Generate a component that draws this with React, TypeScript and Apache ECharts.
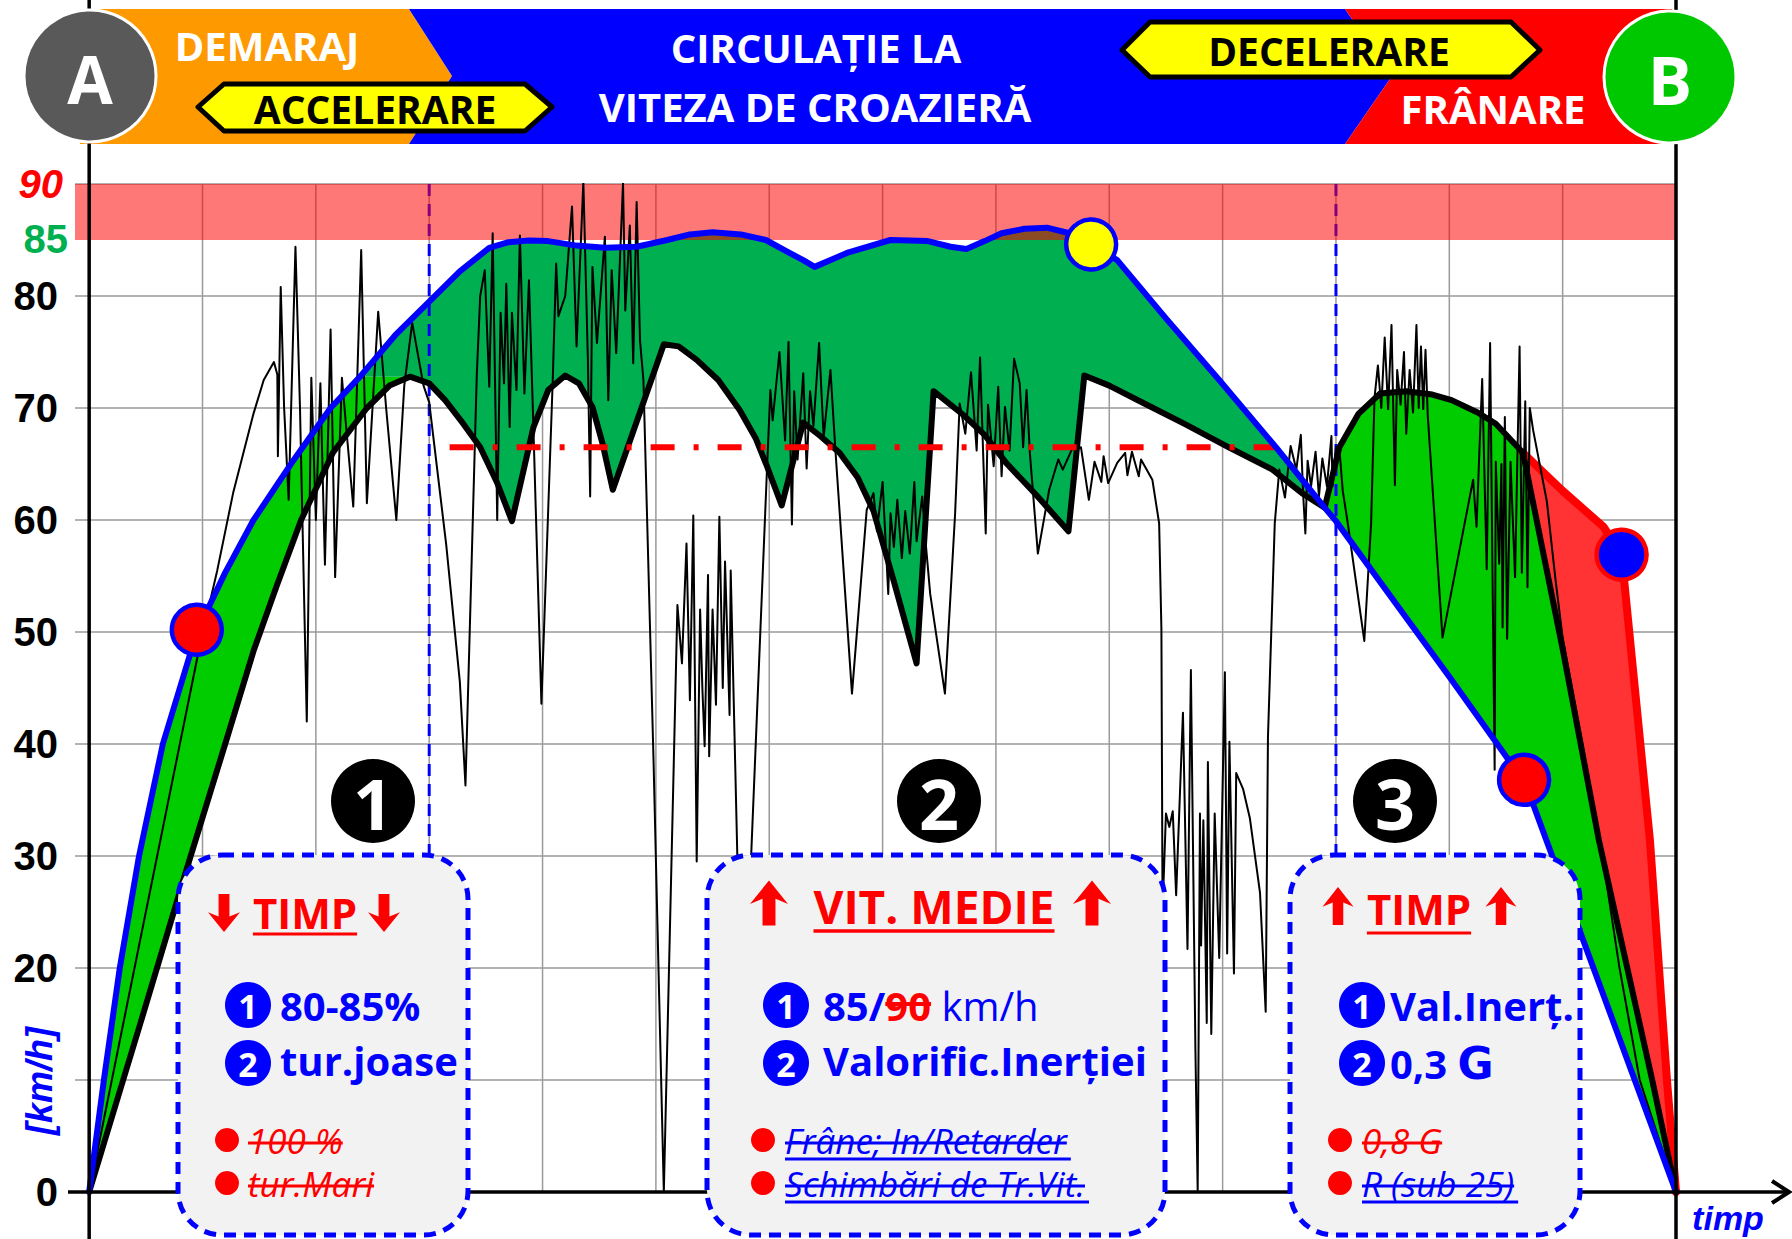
import React, { useEffect, useRef } from "react";
import * as echarts from "echarts";

type P = [number, number];

// ---------- DATA ----------
const xGridTicks = [1, 2, 3, 4, 5, 6, 7, 8, 9, 10, 11, 12, 13];
const hiddenYLabels = [10, 90];
const phaseBoundaries = [3, 11];
const phaseBoundaryLow = 30;
const cruiseBand: P = [85, 90];
const avgSpeed = 66.5;
const avgSpeedSpan: P = [3.18, 10.46];
const accelSplit = 2.39; // where the ideal curve reaches the lower curve's first peak level
const lowerPeak1 = 2.83;
const crossing = 10.9;
const brakeFrom = 12.65;

// ideal (blue) envelope
const idealCurve: P[] = [
  [0, 0], [0.13, 10], [0.27, 20], [0.44, 30], [0.65, 40], [0.95, 50], [1.2, 55.3], [1.45, 60],
  [1.8, 65.3], [2.13, 70], [2.39, 72.8], [2.7, 76.5], [3.0, 79.5], [3.27, 82.2], [3.53, 84.3],
  [3.7, 84.8], [3.88, 84.95], [4.05, 84.9], [4.3, 84.5], [4.55, 84.3], [4.83, 84.4], [5.1, 85.0],
  [5.3, 85.5], [5.5, 85.7], [5.75, 85.5], [5.97, 85.0], [6.15, 84.0], [6.3, 83.2], [6.4, 82.6],
  [6.7, 83.9], [7.07, 85.0], [7.4, 84.9], [7.6, 84.4], [7.74, 84.2], [7.9, 84.9], [8.05, 85.6],
  [8.25, 86.0], [8.45, 86.1], [8.65, 85.6], [8.84, 84.6], [9.07, 83.2], [9.5, 78], [9.97, 72.5],
  [10.47, 66.5], [10.9, 61.1], [11.0, 59.9], [11.56, 52.1], [12.0, 46.0], [12.5, 38.9],
  [12.66, 36.8], [14, 0],
];

// real lower (thick black) curve
const realLower: P[] = [
  [0, 0], [0.45, 15], [0.85, 28.5], [1.2, 40], [1.45, 48.3], [1.65, 54], [1.87, 60], [2.15, 66],
  [2.45, 70], [2.65, 72], [2.83, 72.8], [3.0, 72.2], [3.14, 70.7], [3.3, 68.6], [3.45, 66.5],
  [3.6, 63.3], [3.73, 59.9], [3.92, 68.3], [4.05, 71.6], [4.2, 72.9], [4.32, 72.2], [4.44, 70.1],
  [4.53, 66.8], [4.62, 62.7], [5.07, 75.7], [5.2, 75.5], [5.36, 74.3], [5.55, 72.5], [5.74, 69.8],
  [5.88, 67.3], [5.98, 64.8], [6.11, 61.3], [6.3, 68.7], [6.45, 67.5], [6.62, 66.0], [6.78, 63.8],
  [6.92, 60.8], [7.1, 54.5], [7.3, 47.2], [7.45, 71.5], [7.71, 69.4], [7.9, 67.6], [8.09, 65.1],
  [8.35, 62.3], [8.64, 59], [8.78, 72.9], [9.0, 72.0], [9.27, 70.6], [9.66, 68.6], [10.05, 66.5],
  [10.44, 64.5], [10.7, 62.4], [10.9, 61.1], [11.03, 66.5], [11.2, 69.5], [11.39, 71.3],
  [11.62, 71.5], [11.85, 71.2], [12.02, 70.7], [12.25, 69.6], [12.41, 68.6], [12.65, 66],
  [13.0, 48.5], [13.32, 31.4], [13.57, 20], [13.79, 10], [14, 0],
];

// braking edge (red)
const brakeEdge: P[] = [
  [12.65, 66], [13.0, 62.6], [13.36, 59.4], [13.52, 56.9], [13.77, 31.4], [13.85, 20], [13.92, 10], [14, 0],
];

// measured speed trace (thin black)
const speedTrace: P[] = [
  [0, 0], [0.98, 49], [1.13, 55.5], [1.27, 62.4], [1.45, 69.5], [1.54, 72.5], [1.63, 74.1], [1.66, 73],
  [1.665, 65.7], [1.69, 80.8], [1.72, 70], [1.76, 61.8], [1.82, 84.4], [1.86, 70], [1.92, 42],
  [1.96, 72.7], [2.0, 60], [2.04, 72.2], [2.08, 56], [2.13, 77], [2.17, 54.9], [2.23, 72.7],
  [2.27, 68], [2.33, 61.2], [2.4, 84.1], [2.45, 61.5], [2.55, 78.6], [2.62, 70], [2.71, 60],
  [2.78, 72], [2.85, 77.6], [2.95, 72], [3.0, 70.5], [3.15, 57.8], [3.27, 45.6], [3.32, 36.3],
  [3.42, 73], [3.45, 80], [3.49, 82.3], [3.53, 71.9], [3.56, 85.6], [3.6, 60], [3.63, 78.5],
  [3.66, 72.2], [3.68, 81.1], [3.71, 68.3], [3.73, 78.5], [3.77, 71.6], [3.8, 85.4], [3.84, 71.3],
  [3.88, 81.4], [3.92, 68], [3.99, 43.6], [4.09, 72.5], [4.12, 82.9], [4.14, 78.2], [4.2, 80],
  [4.26, 88.0], [4.3, 75.5], [4.36, 90.2], [4.4, 74.3], [4.42, 62.1], [4.44, 82.6], [4.48, 75.8],
  [4.55, 85.3], [4.58, 70.7], [4.61, 82.3], [4.65, 74.9], [4.71, 90.1], [4.73, 78.7], [4.77, 86.3],
  [4.8, 74], [4.83, 88.4], [4.86, 76], [4.89, 72.5], [4.98, 38.2], [5.07, 0], [5.19, 52.4],
  [5.23, 47.2], [5.27, 57.9], [5.3, 43.9], [5.33, 60.4], [5.36, 29.5], [5.39, 52], [5.41, 45],
  [5.43, 39.8], [5.46, 55.1], [5.47, 38.9], [5.5, 52], [5.53, 43.5], [5.56, 60.3], [5.59, 45],
  [5.61, 56.3], [5.65, 42.6], [5.66, 55.5], [5.72, 29.3], [5.76, 27.5], [5.84, 29.9], [5.98, 64.5],
  [6.01, 71.6], [6.03, 68.9], [6.09, 75], [6.14, 67.1], [6.17, 75.9], [6.2, 59.6], [6.22, 71.5],
  [6.25, 65.4], [6.3, 73.1], [6.33, 64.6], [6.36, 71.5], [6.39, 68.4], [6.44, 75.8], [6.48, 67.4],
  [6.54, 73.4], [6.58, 66.8], [6.73, 44.5], [6.86, 60.9], [6.92, 62.4], [6.95, 59], [7.0, 63.4],
  [7.05, 53.4], [7.07, 60.6], [7.1, 57.6], [7.13, 61.8], [7.17, 56.6], [7.2, 60.8], [7.24, 57],
  [7.28, 63.4], [7.3, 58.1], [7.35, 62.1], [7.38, 58], [7.42, 53.4], [7.55, 44.5], [7.64, 60.6],
  [7.68, 70.4], [7.73, 67.7], [7.78, 73.2], [7.83, 66.2], [7.86, 74.5], [7.91, 58.8], [7.93, 70.3],
  [7.98, 64.8], [8.02, 71.9], [8.05, 63.9], [8.08, 70.1], [8.12, 66.2], [8.16, 74.4], [8.21, 72.2],
  [8.24, 66.5], [8.27, 71.6], [8.3, 65.9], [8.37, 57], [8.47, 62.7], [8.55, 65.4], [8.59, 64.5],
  [8.67, 66.3], [8.75, 66.5], [8.82, 61.8], [8.87, 65.2], [8.93, 63.4], [8.95, 65.7], [8.99, 63.3],
  [9.07, 65.1], [9.14, 66], [9.16, 64], [9.2, 66.1], [9.26, 63.9], [9.28, 65.4], [9.38, 63.6],
  [9.44, 59.7], [9.46, 50.2], [9.47, 25.1], [9.5, 33.8], [9.53, 32.6], [9.56, 34], [9.59, 26.5],
  [9.65, 42.8], [9.69, 21.7], [9.72, 46.6], [9.76, 12.7], [9.78, 0], [9.8, 33.8], [9.81, 22],
  [9.83, 33.2], [9.86, 15.1], [9.87, 38.4], [9.9, 14.1], [9.93, 33.8], [9.97, 20.9], [10.02, 46.4],
  [10.04, 21.3], [10.06, 40.2], [10.1, 19.5], [10.12, 37.4], [10.18, 36], [10.24, 33.4],
  [10.33, 26.7], [10.38, 16.1], [10.4, 40.6], [10.43, 50.2], [10.46, 59.7], [10.5, 64.5],
  [10.55, 62], [10.6, 66.6], [10.65, 64.5], [10.69, 67.6], [10.71, 62.4], [10.73, 58.8],
  [10.75, 65.3], [10.78, 63], [10.82, 66.1], [10.85, 62.1], [10.88, 65.5], [10.92, 63],
  [10.96, 67.5], [10.97, 63], [11.0, 66.5], [11.03, 66.4], [11.06, 62.6], [11.1, 60], [11.25, 49.2],
  [11.31, 59.7], [11.34, 70.9], [11.37, 73.8], [11.4, 70], [11.43, 76.3], [11.46, 69.9],
  [11.49, 77.4], [11.52, 63.1], [11.54, 73.4], [11.57, 70.3], [11.6, 75.0], [11.62, 67.7],
  [11.65, 73.4], [11.68, 69.6], [11.71, 77.4], [11.73, 70], [11.75, 75.5], [11.77, 69.9],
  [11.79, 75.2], [11.81, 69.3], [11.94, 49.5], [12.21, 63.6], [12.24, 59.4], [12.29, 72.6],
  [12.33, 55.6], [12.36, 75.8], [12.38, 56.2], [12.4, 37.7], [12.41, 65.2], [12.44, 56.1],
  [12.46, 65], [12.47, 50.4], [12.49, 69.2], [12.51, 49.4], [12.54, 65.2], [12.58, 54.9],
  [12.62, 75.5], [12.64, 55.3], [12.67, 70.6], [12.69, 54], [12.71, 70], [12.74, 68], [12.86, 61.7],
  [12.94, 54.4], [13.0, 49.5], [13.33, 31.4], [13.5, 20.1], [13.68, 10], [14, 0],
];

const markerStart: P = [0.95, 50.2];
const markerCruiseEnd: P = [8.84, 84.6];
const markerBrake: P = [12.66, 36.8];
const markerBrakeAlt: P = [13.52, 56.9];

// ---------- STYLE CONSTANTS ----------
const OPEN = '"Open Sans", "DejaVu Sans", sans-serif';
const ARIAL = '"Liberation Sans", Arial, sans-serif';
const BLUE = "#0000ff";
const RED = "#ff0000";
const GRID_GRAY = "#9a9a9a";

const between = (arr: P[], a: number, b: number) =>
  arr.filter(([x]) => x >= a - 1e-9 && x <= b + 1e-9);

const leftBright: P[] = [...between(idealCurve, 0, accelSplit), ...between(realLower, 0, lowerPeak1).reverse()];
const middleDark: P[] = [...between(idealCurve, accelSplit, crossing), ...between(realLower, lowerPeak1, crossing).reverse()];
const rightBright: P[] = [...between(realLower, crossing, 14), ...between(idealCurve, crossing, 14).reverse()];
const redFill: P[] = [...between(realLower, brakeFrom, 14), ...brakeEdge.slice().reverse()];
const brownPoly: P[] = [
  ...between(idealCurve, 3.5, markerCruiseEnd[0]).map(([x, y]) => [x, Math.max(y, cruiseBand[0])] as P),
  [markerCruiseEnd[0], cruiseBand[0]],
  [3.5, cruiseBand[0]],
];
const bandPoly: P[] = [[-0.125, cruiseBand[0]], [14, cruiseBand[0]], [14, cruiseBand[1]], [-0.125, cruiseBand[1]]];

const polySeries = (id: string, pts: P[], fill: string, z: number) => ({
  type: "custom",
  id,
  z,
  silent: true,
  data: [pts[0]],
  renderItem: (_p: any, api: any) => ({
    type: "polygon",
    shape: { points: pts.map((q) => api.coord(q)) },
    style: { fill },
  }),
});

const lineSeries = (id: string, data: P[], color: string, width: number, z: number, extra: any = {}) => ({
  type: "line",
  id,
  z,
  silent: true,
  data,
  symbol: "none",
  smooth: false,
  lineStyle: { color, width, join: "round", cap: "round", opacity: 1, ...extra },
});

function buildOption(): any {
  return {
    animation: false,
    backgroundColor: "#ffffff",
    grid: { left: 75, top: 184, width: 1601, height: 1008 },
    xAxis: {
      type: "value", min: -0.125, max: 14,
      axisLine: { show: false }, axisTick: { show: false }, axisLabel: { show: false }, splitLine: { show: false },
    },
    yAxis: {
      type: "value", min: 0, max: 90, interval: 10,
      axisLine: { show: false }, axisTick: { show: false },
      axisLabel: {
        margin: 17, fontSize: 40, fontWeight: "bold", color: "#000", fontFamily: ARIAL,
        formatter: (v: number) => (hiddenYLabels.includes(v) ? "" : String(v)),
      },
      splitLine: { lineStyle: { color: GRID_GRAY, width: 1.5 } },
    },
    series: [
      {
        type: "custom", id: "vgrid", z: 1, silent: true,
        data: xGridTicks.map((x) => [x, 0]),
        renderItem: (_p: any, api: any) => {
          const a = api.coord([api.value(0), 0]);
          const b = api.coord([api.value(0), 90]);
          return { type: "line", shape: { x1: a[0], y1: a[1], x2: b[0], y2: b[1] }, style: { stroke: GRID_GRAY, lineWidth: 1.5 } };
        },
      },
      polySeries("leftBright", leftBright, "#00cc00", 2),
      polySeries("middleDark", middleDark, "#00b050", 2),
      polySeries("rightBright", rightBright, "#00cc00", 2),
      polySeries("redFill", redFill, "#ff3333", 2),
      {
        type: "custom", id: "phases", z: 3, silent: true,
        data: phaseBoundaries.map((x) => [x, cruiseBand[1]]),
        renderItem: (_p: any, api: any) => {
          const a = api.coord([api.value(0), cruiseBand[1]]);
          const b = api.coord([api.value(0), phaseBoundaryLow]);
          return {
            type: "line", shape: { x1: a[0], y1: a[1], x2: b[0], y2: b[1] },
            style: { stroke: BLUE, lineWidth: 3, lineDash: [12, 8] },
          };
        },
      },
      polySeries("band", bandPoly, "rgba(255,0,0,0.53)", 4),
      polySeries("brown", brownPoly, "#8a4b25", 5),
      lineSeries("brakeEdge", brakeEdge, RED, 8, 6),
      lineSeries("realLower", realLower, "#000", 6, 7),
      lineSeries("trace", speedTrace, "#000", 2, 8),
      lineSeries("avg", [[avgSpeedSpan[0], avgSpeed], [avgSpeedSpan[1], avgSpeed]], RED, 6, 9, { type: [24, 19, 5, 19], cap: "butt" }),
      lineSeries("ideal", idealCurve, BLUE, 6, 10),
      {
        type: "scatter", id: "markers", z: 11, silent: true, symbol: "circle", symbolSize: 50,
        itemStyle: { opacity: 1 },
        data: [
          { value: markerStart, itemStyle: { color: RED, borderColor: BLUE, borderWidth: 4.5, opacity: 1 } },
          { value: markerCruiseEnd, itemStyle: { color: "#ffff00", borderColor: BLUE, borderWidth: 4.5, opacity: 1 } },
          { value: markerBrake, itemStyle: { color: RED, borderColor: BLUE, borderWidth: 4.5, opacity: 1 } },
          { value: markerBrakeAlt, itemStyle: { color: BLUE, borderColor: RED, borderWidth: 4.5, opacity: 1 } },
        ],
      },
    ],
  };
}

// ---------- GRAPHICS ----------
let measureCtx: CanvasRenderingContext2D | null = null;
const measure = (t: string, size: number, weight = "bold", style = "normal", family = OPEN) => {
  if (!measureCtx) measureCtx = document.createElement("canvas").getContext("2d");
  measureCtx!.font = `${style} ${weight} ${size}px ${family}`;
  return measureCtx!.measureText(t).width;
};

const txt = (text: string, x: number, y: number, o: any = {}) => ({
  type: "text", z: o.z ?? 120, x, y, rotation: o.rotation ?? 0, silent: true,
  style: {
    text, fill: o.fill ?? "#000", fontSize: o.size ?? 40, fontWeight: o.weight ?? "bold",
    fontStyle: o.style ?? "normal", fontFamily: o.family ?? OPEN,
    lineHeight: o.lineHeight ?? Math.round((o.size ?? 40) * 1.05),
    align: o.align ?? "center", verticalAlign: "middle", rich: o.rich,
  },
});
const hline = (x1: number, x2: number, y: number, color: string, w = 3, z = 121) => ({
  type: "line", z, silent: true, shape: { x1, y1: y, x2, y2: y }, style: { stroke: color, lineWidth: w },
});
const circ = (cx: number, cy: number, r: number, fill: string, z = 110, stroke?: string, lw = 0) => ({
  type: "circle", z, silent: true, shape: { cx, cy, r }, style: { fill, stroke, lineWidth: lw },
});
const arrow = (cx: number, cy: number, w: number, h: number, dir: number) => {
  const hh = h * 0.52, s = w * 0.34, top = cy - h / 2, bot = cy + h / 2;
  let pts: number[][] = [
    [cx, top], [cx + w / 2, top + hh], [cx + s / 2, top + hh * 0.78], [cx + s / 2, bot],
    [cx - s / 2, bot], [cx - s / 2, top + hh * 0.78], [cx - w / 2, top + hh],
  ];
  if (dir < 0) pts = pts.map(([x, y]) => [x, 2 * cy - y]);
  return { type: "polygon", z: 115, silent: true, shape: { points: pts }, style: { fill: RED } };
};
const numBadge = (cx: number, cy: number, n: string) => [
  circ(cx, cy, 23, BLUE, 112),
  txt(n, cx, cy + 1, { size: 34, fill: "#fff", z: 113, lineHeight: 34 }),
];
const struck = (t: string, x: number, y: number, color: string, underline: boolean) => {
  const w = measure(t, 35, "normal", "italic");
  const out: any[] = [txt(t, x, y, { size: 35, weight: "normal", style: "italic", fill: color, align: "left", lineHeight: 36 }),
    hline(x, x + w, y + 3, color, 3)];
  if (underline) out.push(hline(x, x + w + 4, y + 19, color, 3));
  return out;
};

function buildGraphics(p: (x: number, y: number) => number[]): any[] {
  const els: any[] = [];
  const [ax0, ay0] = p(0, 0);
  const [bx] = p(14, 0);
  const [, y90] = p(0, 90);
  const [, y85] = p(0, 85);

  // banner
  els.push({ type: "polygon", z: 40, silent: true, shape: { points: [[80, 9], [409, 9], [452, 76], [409, 144], [80, 144]] }, style: { fill: "#ff9900" } });
  els.push({ type: "polygon", z: 40, silent: true, shape: { points: [[409, 9], [1345, 9], [1392, 76], [1345, 144], [409, 144], [452, 76]] }, style: { fill: BLUE } });
  els.push({ type: "polygon", z: 40, silent: true, shape: { points: [[1345, 9], [1672, 9], [1672, 144], [1345, 144], [1392, 76]] }, style: { fill: RED } });

  // axes
  els.push({ type: "line", z: 50, silent: true, shape: { x1: ax0, y1: 0, x2: ax0, y2: 1239 }, style: { stroke: "#000", lineWidth: 3.5 } });
  els.push({ type: "line", z: 50, silent: true, shape: { x1: bx, y1: 0, x2: bx, y2: 1239 }, style: { stroke: "#000", lineWidth: 3.5 } });
  els.push({ type: "line", z: 50, silent: true, shape: { x1: 68, y1: ay0, x2: 1787, y2: ay0 }, style: { stroke: "#000", lineWidth: 3.5 } });
  els.push({ type: "polyline", z: 50, silent: true, shape: { points: [[1772, ay0 - 11], [1789, ay0], [1772, ay0 + 11]] }, style: { stroke: "#000", lineWidth: 4, fill: null } });
  els.push(txt("90", 63, y90, { size: 40, style: "italic", fill: RED, family: ARIAL, align: "right", z: 70 }));
  els.push(txt("85", 68, y85 - 1, { size: 40, fill: "#00b050", family: ARIAL, align: "right", z: 70 }));
  els.push(txt("timp", 1728, 1218, { size: 34, style: "italic", fill: BLUE, family: ARIAL, z: 70 }));
  els.push(txt("[km/h]", 39, 1081, { size: 36, style: "italic", fill: BLUE, family: ARIAL, z: 70, rotation: Math.PI / 2 }));

  // header labels
  els.push(txt("DEMARAJ", 267, 45, { size: 40, fill: "#fff", z: 46 }));
  els.push({ type: "polygon", z: 45, silent: true, shape: { points: [[198, 107], [224, 84], [525, 84], [552, 107], [525, 131], [224, 131]] }, style: { fill: "#ffff00", stroke: "#000", lineWidth: 5, lineJoin: "round" } });
  els.push(txt("ACCELERARE", 375, 108, { size: 39, fill: "#000", z: 46 }));
  els.push(txt("CIRCULAȚIE LA", 816, 47, { size: 40, fill: "#fff", z: 46 }));
  els.push(txt("VITEZA DE CROAZIERĂ", 815, 106, { size: 40, fill: "#fff", z: 46 }));
  els.push({ type: "polygon", z: 45, silent: true, shape: { points: [[1122, 50], [1150, 22], [1511, 22], [1540, 50], [1511, 77], [1150, 77]] }, style: { fill: "#ffff00", stroke: "#000", lineWidth: 5, lineJoin: "round" } });
  els.push(txt("DECELERARE", 1329, 50, { size: 39, fill: "#000", z: 46 }));
  els.push(txt("FRÂNARE", 1493, 108, { size: 40, fill: "#fff", z: 46 }));
  els.push(circ(90, 76, 66, "#595959", 60, "#fff", 3));
  els.push(txt("A", 90, 78, { size: 66, fill: "#fff", z: 61 }));
  els.push(circ(1670, 77, 66, "#00c800", 60, "#fff", 3));
  els.push(txt("B", 1670, 79, { size: 66, fill: "#fff", z: 61 }));

  // phase numbers
  [[373, "1"], [939, "2"], [1395, "3"]].forEach(([cx, n]) => {
    els.push(circ(cx as number, 801, 42, "#000", 90));
    els.push(txt(n as string, cx as number, 803, { size: 70, fill: "#fff", z: 91 }));
  });

  // boxes
  const box = (x: number, w: number) => ({
    type: "rect", z: 100, silent: true, shape: { x, y: 855, width: w, height: 380, r: 44 },
    style: { fill: "#f2f2f2", stroke: BLUE, lineWidth: 5, lineDash: [12, 8] },
  });
  els.push(box(178, 290), box(707, 458), box(1290, 290));

  // box 1
  els.push(arrow(224, 913, 32, 38, -1), arrow(384, 913, 32, 38, -1));
  els.push(txt("TIMP", 305, 912, { size: 42, fill: RED }));
  { const w = measure("TIMP", 42); els.push(hline(305 - w / 2, 305 + w / 2, 934, RED, 3)); }
  els.push(...numBadge(248, 1005, "1"), txt("80-85%", 280, 1005, { size: 40, fill: BLUE, align: "left" }));
  els.push(...numBadge(248, 1063, "2"), txt("tur.joase", 280, 1060, { size: 40, fill: BLUE, align: "left" }));
  els.push(circ(227, 1140, 12, RED, 110), ...struck("100 %", 248, 1140, RED, false));
  els.push(circ(227, 1183, 12, RED, 110), ...struck("tur.Mari", 248, 1183, RED, false));

  // box 2
  els.push(arrow(769, 903, 38, 45, 1), arrow(1092, 903, 38, 45, 1));
  els.push(txt("VIT. MEDIE", 934, 906, { size: 46, fill: RED }));
  { const w = measure("VIT. MEDIE", 46); els.push(hline(934 - w / 2, 934 + w / 2, 931, RED, 3.5)); }
  els.push(...numBadge(786, 1005, "1"));
  els.push(txt("{b|85/}{r|90}{n| km/h}", 823, 1005, {
    align: "left", size: 40, fill: BLUE,
    rich: {
      b: { fill: BLUE, fontSize: 40, fontWeight: "bold", fontFamily: OPEN },
      r: { fill: RED, fontSize: 40, fontWeight: "bold", fontFamily: OPEN },
      n: { fill: BLUE, fontSize: 40, fontWeight: "normal", fontFamily: OPEN },
    },
  }));
  { const a = 823 + measure("85/", 40); const w = measure("90", 40); els.push(hline(a, a + w, 1004, RED, 4)); }
  els.push(...numBadge(786, 1063, "2"), txt("Valorific.Inerției", 823, 1060, { size: 40, fill: BLUE, align: "left" }));
  els.push(circ(763, 1140, 12, RED, 110), ...struck("Frâne; In/Retarder", 785, 1140, BLUE, true));
  els.push(circ(763, 1183, 12, RED, 110), ...struck("Schimbări de Tr.Vit.", 785, 1183, BLUE, true));

  // box 3
  els.push(arrow(1338, 906, 31, 38, 1), arrow(1501, 906, 31, 38, 1));
  els.push(txt("TIMP", 1419, 908, { size: 42, fill: RED }));
  { const w = measure("TIMP", 42); els.push(hline(1419 - w / 2, 1419 + w / 2, 933, RED, 3)); }
  els.push(...numBadge(1362, 1005, "1"), txt("Val.Inerț.", 1390, 1005, { size: 40, fill: BLUE, align: "left" }));
  els.push(...numBadge(1362, 1063, "2"));
  els.push(txt("{b|0,3 }{g|G}", 1390, 1063, {
    align: "left", size: 40, fill: BLUE,
    rich: {
      b: { fill: BLUE, fontSize: 40, fontWeight: "bold", fontFamily: OPEN },
      g: { fill: BLUE, fontSize: 44, fontWeight: "bold", fontFamily: '"DejaVu Sans", sans-serif' },
    },
  }));
  els.push(circ(1340, 1140, 12, RED, 110), ...struck("0,8 G", 1362, 1140, RED, false));
  els.push(circ(1340, 1183, 12, RED, 110), ...struck("R (sub 25)", 1362, 1183, BLUE, true));

  return els;
}

export default function App() {
  const ref = useRef<HTMLDivElement>(null);
  useEffect(() => {
    const el = ref.current;
    if (!el) return;
    const chart = echarts.init(el, null, { renderer: "svg" });
    chart.setOption(buildOption());
    const p = (x: number, y: number) => chart.convertToPixel({ gridIndex: 0 }, [x, y]) as number[];
    chart.setOption({ graphic: { elements: buildGraphics(p) } });
    return () => chart.dispose();
  }, []);
  return (
    <div
      ref={ref}
      style={{ position: "absolute", left: 0, top: 0, width: 1792, height: 1239, background: "#fff" }}
    />
  );
}
